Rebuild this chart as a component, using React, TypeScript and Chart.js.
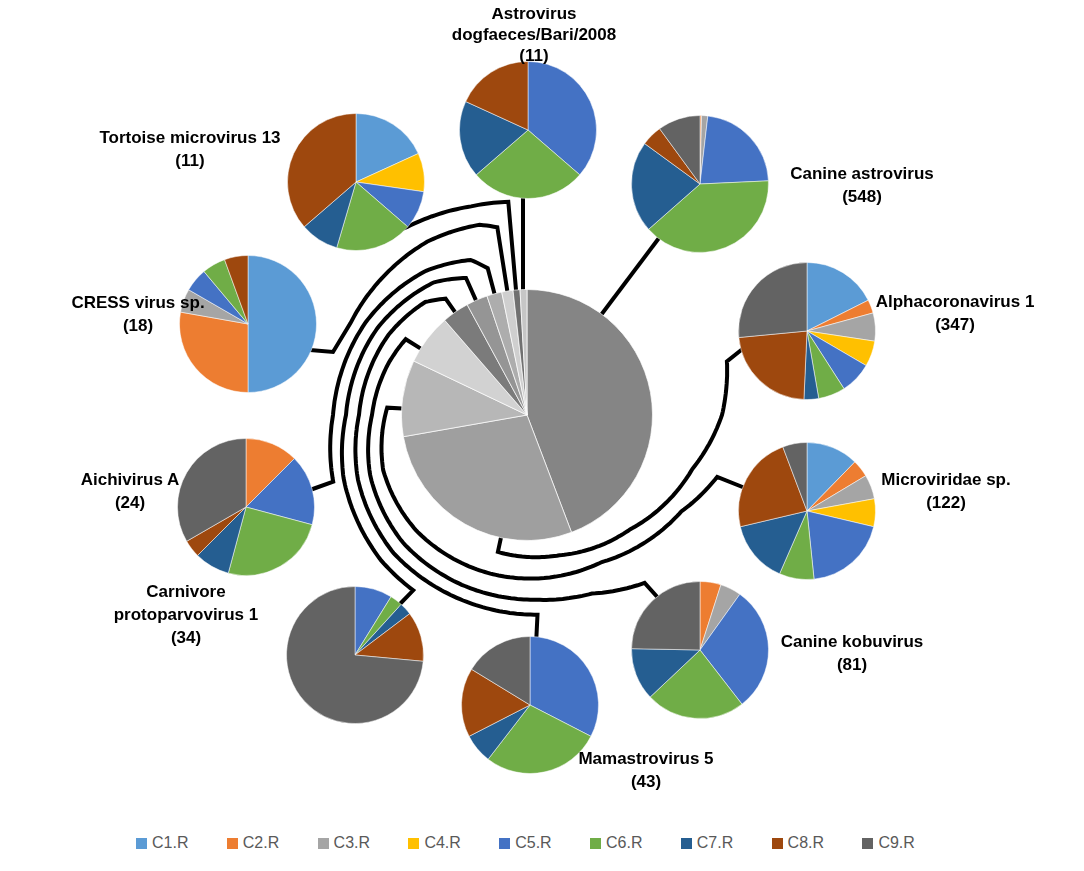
import React, { useEffect, useRef } from "react";
import { Chart, registerables } from "chart.js";

Chart.register(...registerables);

// ---------------- DATA ----------------
const SERIES = ["C1.R", "C2.R", "C3.R", "C4.R", "C5.R", "C6.R", "C7.R", "C8.R", "C9.R"];
const SERIES_COLORS = ["#5B9BD5", "#ED7D31", "#A5A5A5", "#FFC000", "#4472C4", "#70AD47", "#255E91", "#9E480E", "#636363"];

const VIRUSES = [
  "Canine astrovirus",
  "Alphacoronavirus 1",
  "Microviridae sp.",
  "Canine kobuvirus",
  "Mamastrovirus 5",
  "Carnivore protoparvovirus 1",
  "Aichivirus A",
  "CRESS virus sp.",
  "Tortoise microvirus 13",
  "Astrovirus dogfaeces/Bari/2008",
];
const VIRUS_TOTALS = [548, 347, 122, 81, 43, 34, 24, 18, 11, 11];
const CENTER_GREYS = ["#858585", "#9f9f9f", "#b7b7b7", "#d2d2d2", "#7b7b7b", "#959595", "#adadad", "#cfcfcf", "#707070", "#c6c6c6"];

// per-virus composition by cluster C1.R .. C9.R
const canineAstrovirus = [0, 2, 8, 0, 123, 215, 118, 27, 55];
const alphacoronavirus1 = [61, 11, 23, 21, 26, 22, 12, 79, 92];
const microviridaeSp = [15, 5, 7, 8, 24, 10, 18, 28, 7];
const canineKobuvirus = [0, 4, 4, 0, 24, 19, 10, 0, 20];
const mamastrovirus5 = [0, 0, 0, 0, 14, 12, 3, 7, 7];
const carnivoreProtoparvovirus1 = [0, 0, 0, 0, 3, 1, 1, 4, 25];
const aichivirusA = [0, 3, 0, 0, 4, 6, 2, 1, 8];
const cressVirusSp = [9, 5, 1, 0, 1, 1, 0, 1, 0];
const tortoiseMicrovirus13 = [2, 0, 0, 1, 1, 2, 1, 4, 0];
const astrovirusDogfaeces = [0, 0, 0, 0, 4, 3, 2, 2, 0];

const COMPOSITIONS = [
  canineAstrovirus,
  alphacoronavirus1,
  microviridaeSp,
  canineKobuvirus,
  mamastrovirus5,
  carnivoreProtoparvovirus1,
  aichivirusA,
  cressVirusSp,
  tortoiseMicrovirus13,
  astrovirusDogfaeces,
];

// ---------------- LAYOUT ----------------
const CENTER = { x: 527, y: 415, r: 125 };
const SMALL_R = 68;
const PIE_CENTERS: [number, number][] = [
  [700, 184],
  [807, 331],
  [807, 511],
  [700, 650],
  [530, 705],
  [355, 655],
  [246, 507],
  [248, 324],
  [356, 182],
  [528, 130],
];

type LabelDef = { cx: number; y: number; lh: number; lines: string[] };
const LABELS: LabelDef[] = [
  { cx: 862, y: 173, lh: 23, lines: ["Canine astrovirus", "(548)"] },
  { cx: 955, y: 301, lh: 23, lines: ["Alphacoronavirus 1", "(347)"] },
  { cx: 946, y: 479, lh: 23, lines: ["Microviridae sp.", "(122)"] },
  { cx: 852, y: 641, lh: 23, lines: ["Canine kobuvirus", "(81)"] },
  { cx: 646, y: 758, lh: 23, lines: ["Mamastrovirus 5", "(43)"] },
  { cx: 186, y: 591, lh: 23, lines: ["Carnivore", "protoparvovirus 1", "(34)"] },
  { cx: 130, y: 479, lh: 23, lines: ["Aichivirus A", "(24)"] },
  { cx: 138, y: 302, lh: 23, lines: ["CRESS virus sp.", "(18)"] },
  { cx: 190, y: 137, lh: 23, lines: ["Tortoise microvirus 13", "(11)"] },
  { cx: 534, y: 13, lh: 21, lines: ["Astrovirus", "dogfaeces/Bari/2008", "(11)"] },
];

// connectors: lead-in points, then spiral waypoints [angle deg clockwise from top, radius] around central pie
type Conn = { lead: [number, number][]; arc: [number, number][] };
const CONNECTORS: Conn[] = [
  { lead: [[662, 234], [601, 315]], arc: [] },
  { lead: [[745, 347]], arc: [[75, 207], [90, 195], [108, 174], [138, 154], [167, 144], [192, 140], [192, 120]] },
  { lead: [[745, 488]], arc: [[108, 200], [122, 182], [153, 165], [190, 163], [224, 160], [249, 154], [273, 140], [273, 120]] },
  { lead: [[660, 600]], arc: [[145, 205], [160, 190], [177, 185], [200, 182], [224, 178], [249, 168], [270, 155], [290, 148], [302, 143], [302, 120]] },
  { lead: [[536, 645]], arc: [[177, 200], [200, 196], [224, 192], [249, 181], [270, 168], [300, 160], [318, 152], [325, 142], [325, 120]] },
  { lead: [[398, 606]], arc: [[213, 209], [225, 206], [251, 194], [270, 181], [300, 173], [325, 162], [336, 150], [336, 120]] },
  { lead: [[310, 490]], arc: [[251, 205], [270, 194], [300, 186], [325, 176], [340, 165], [345, 152], [345, 120]] },
  { lead: [[310, 350], [333, 352]], arc: [[297.5, 199], [330, 200], [346, 196], [351, 190], [351, 120]] },
  { lead: [[400, 230]], arc: [[327.5, 223], [345, 216], [355, 214], [355, 120]] },
  { lead: [[523, 190], [523, 295]], arc: [] },
];

function polar(theta: number, r: number): [number, number] {
  const a = (theta * Math.PI) / 180;
  return [CENTER.x + r * Math.sin(a), CENTER.y - r * Math.cos(a)];
}

function connectorPath(c: Conn): string {
  const pts: [number, number][] = [...c.lead];
  for (let i = 0; i < c.arc.length; i++) {
    const [t, r] = c.arc[i];
    if (i === 0) {
      pts.push(polar(t, r));
      continue;
    }
    const [t0, r0] = c.arc[i - 1];
    const steps = Math.max(1, Math.ceil(Math.abs(t - t0)));
    for (let s = 1; s <= steps; s++) {
      const f = s / steps;
      pts.push(polar(t0 + (t - t0) * f, r0 + (r - r0) * f));
    }
  }
  return pts.map((p, i) => `${i === 0 ? "M" : "L"}${p[0].toFixed(1)},${p[1].toFixed(1)}`).join(" ");
}

// ---------------- COMPONENTS ----------------
function PieCanvas(props: { values: number[]; colors: string[]; labels: string[]; cx: number; cy: number; r: number; border: string }) {
  const ref = useRef<HTMLCanvasElement | null>(null);
  const size = props.r * 2 + 2;
  useEffect(() => {
    if (!ref.current) return;
    const chart = new Chart(ref.current, {
      type: "pie",
      data: {
        labels: props.labels,
        datasets: [
          {
            data: props.values,
            backgroundColor: props.colors,
            borderColor: props.border,
            borderWidth: 1,
          },
        ],
      },
      options: {
        responsive: false,
        animation: false,
        layout: { padding: 0 },
        plugins: { legend: { display: false }, tooltip: { enabled: false } },
      },
    });
    return () => chart.destroy();
  }, []);
  return (
    <canvas
      ref={ref}
      width={size}
      height={size}
      style={{ position: "absolute", left: props.cx - size / 2, top: props.cy - size / 2, width: size, height: size }}
    />
  );
}

export default function App() {
  const labelFont = '"Liberation Sans", Arial, sans-serif';
  return (
    <div style={{ position: "relative", width: 1084, height: 871, margin: "-8px 0 0 -8px", background: "#fff", overflow: "hidden" }}>
      <svg width={1084} height={871} style={{ position: "absolute", left: 0, top: 0 }}>
        {CONNECTORS.map((c, i) => (
          <path key={i} d={connectorPath(c)} fill="none" stroke="#000" strokeWidth={4} strokeLinejoin="miter" />
        ))}
      </svg>
      <PieCanvas values={VIRUS_TOTALS} colors={CENTER_GREYS} labels={VIRUSES} cx={CENTER.x} cy={CENTER.y} r={CENTER.r} border="rgba(255,255,255,0.7)" />
      {COMPOSITIONS.map((vals, i) => (
        <PieCanvas key={i} values={vals} colors={SERIES_COLORS} labels={SERIES} cx={PIE_CENTERS[i][0]} cy={PIE_CENTERS[i][1]} r={SMALL_R} border="rgba(255,255,255,0.5)" />
      ))}
      {LABELS.map((l, i) => (
        <div
          key={i}
          style={{
            position: "absolute",
            left: l.cx - 150,
            width: 300,
            top: l.y - l.lh / 2,
            textAlign: "center",
            fontFamily: labelFont,
            fontWeight: "bold",
            fontSize: 17,
            lineHeight: `${l.lh}px`,
            color: "#000",
          }}
        >
          {l.lines.map((t, j) => (
            <div key={j}>{t}</div>
          ))}
        </div>
      ))}
      {SERIES.map((s, i) => (
        <div
          key={s}
          style={{
            position: "absolute",
            left: 136 + i * 90.8,
            top: 834,
            height: 18,
            display: "flex",
            alignItems: "center",
            fontFamily: labelFont,
            fontSize: 16,
            color: "#595959",
            whiteSpace: "nowrap",
          }}
        >
          <span style={{ display: "inline-block", width: 11, height: 11, background: SERIES_COLORS[i], marginRight: 5 }} />
          {s}
        </div>
      ))}
    </div>
  );
}
